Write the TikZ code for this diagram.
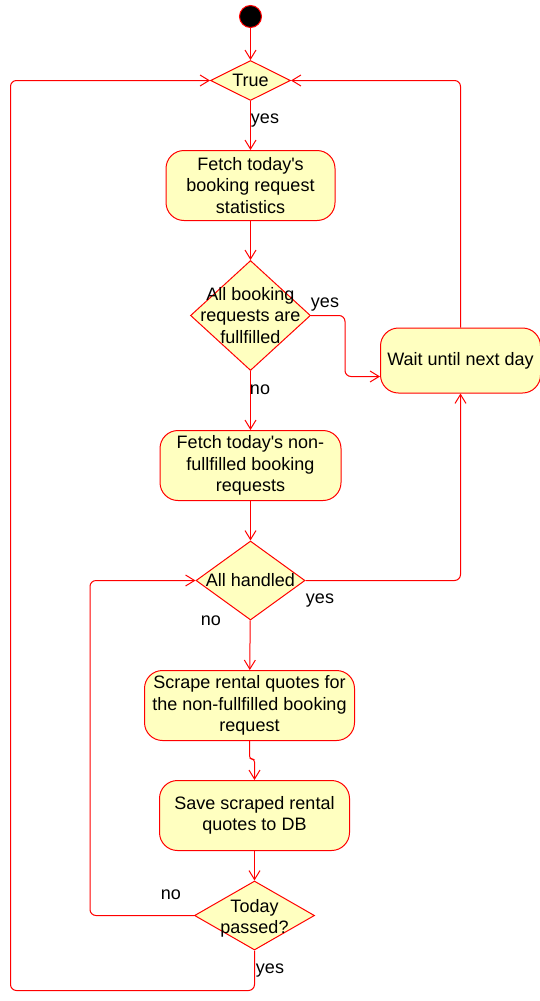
\documentclass[tikz,border=0pt]{standalone}
\usepackage{fontspec}
\setmainfont{Liberation Sans}
\usetikzlibrary{shapes.geometric,arrows.meta}
\definecolor{boxfill}{RGB}{255,255,192}
\definecolor{linered}{RGB}{255,0,0}
\tikzset{
  activity/.style={rectangle,rounded corners=18pt,draw=linered,fill=boxfill,line width=1pt,align=center,minimum height=70pt,inner sep=0pt},
  decision/.style={diamond,draw=linered,fill=boxfill,line width=1pt,inner sep=0pt},
  flow/.style={draw=linered,line width=1pt,rounded corners=6pt,-{Straight Barb[length=9pt,width=11pt]}},
  guard/.style={inner sep=0pt}
}

\begin{document}
\begin{tikzpicture}[x=1pt,y=-1pt,font=\fontsize{18}{21.5}\selectfont]
            \useasboundingbox (0,0) rectangle (540,1001);
            \node[circle,fill=black,draw=linered,line width=1pt,minimum size=22pt,inner sep=0pt] (start) at (250.5,16.5) {};
            \node[decision,minimum width=80pt,minimum height=40pt,label=center:True] (true) at (250.5,80.5) {};
            \node[activity,minimum width=169pt] (fetch) at (250.5,185.5) {Fetch today\textquotesingle s\\booking request\\statistics};
            \node[decision,minimum width=120pt,minimum height=110pt,label={[align=center]center:All booking\\requests are\\fullfilled}] (allfull) at (250.5,315.5) {};
            \node[activity,minimum width=160pt,minimum height=65pt] (wait) at (460.5,360.5) {Wait until next day};
            \node[activity,minimum width=181pt] (fetchopen) at (250.5,465.5) {Fetch today\textquotesingle s non-\\fullfilled booking\\requests};
            \node[decision,minimum width=109pt,minimum height=79pt,label=center:All handled] (allhandled) at (250.5,580.5) {};
            \node[activity,minimum width=210pt] (scrape) at (249.5,705.5) {Scrape rental quotes for\\the non-fullfilled booking\\request};
            \node[activity,minimum width=190pt] (save) at (254.5,815.5) {Save scraped rental\\quotes to DB};
            \node[decision,minimum width=120pt,minimum height=69pt,label={[align=center,yshift=-3pt]center:Today\\passed?}] (passed) at (254.5,915.5) {};
            \coordinate (loopcorner) at (10.5,990.5);
            \node[guard] (yestrue) at (265,121) {yes};
            \node[guard] (yesfull) at (325,305) {yes};
            \node[guard] (nofull) at (260,390) {no};
            \node[guard] (yeshandled) at (320,601) {yes};
            \node[guard] (nohandled) at (211,621) {no};
            \node[guard] (nopassed) at (171,895) {no};
            \node[guard] (yespassed) at (270,971) {yes};
            \draw[flow] (start) -- (true);
            \draw[flow] (true) -- (fetch);
            \draw[flow] (fetch) -- (allfull);
            \draw[flow] (allfull.east) -- ++(34,0) |- ([yshift=-16pt]wait.west);
            \draw[flow] (wait.north) |- (true.east);
            \draw[flow] (allfull) -- (fetchopen);
            \draw[flow] (fetchopen) -- (allhandled);
            \draw[flow] (allhandled.east) -| (wait.south);
            \draw[flow] (allhandled) -- (scrape);
            \draw[flow,rounded corners=3pt] (scrape.south) -- ++(0,18) -| (save.north);
            \draw[flow] (save) -- (passed);
            \draw[flow] (passed.west) -- ++(-104,0) |- (allhandled.west);
            \draw[flow] (passed.south) |- (loopcorner) |- (true.west);
        \end{tikzpicture}
\end{document}
